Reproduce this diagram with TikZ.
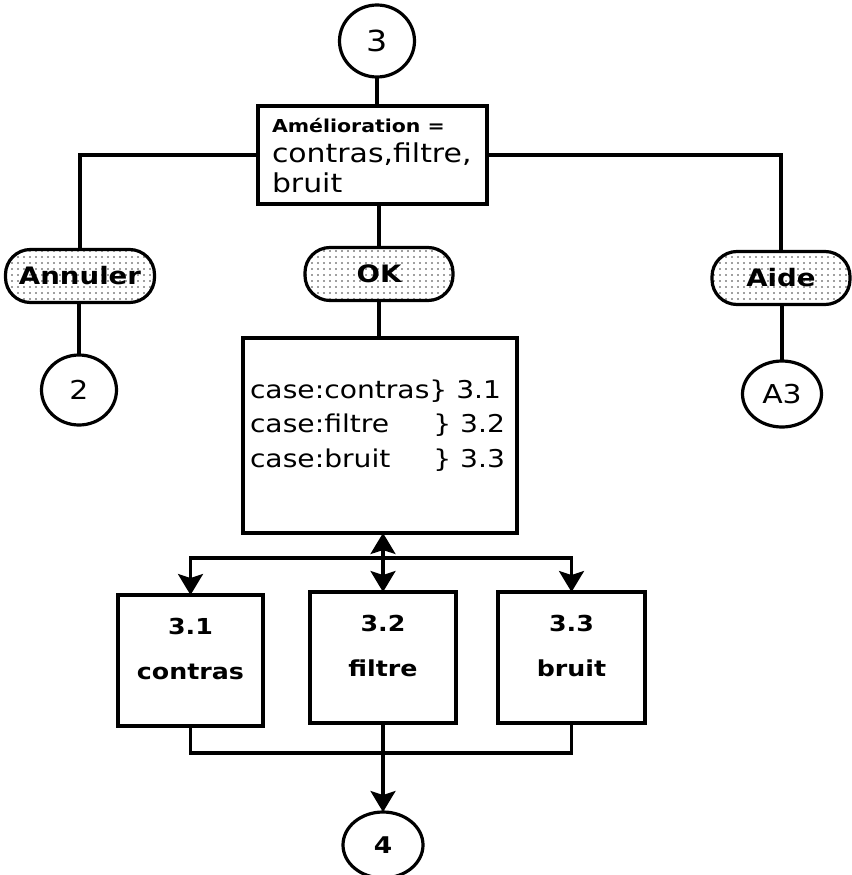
\documentclass[tikz,border=0pt]{standalone}
\usepackage{fontspec}
\setmainfont{DejaVu Sans}[FakeStretch=1.15]
\usetikzlibrary{shapes.geometric,arrows.meta,patterns.meta}

\newcommand\fsize[1]{\fontsize{#1}{#1}\selectfont}

\begin{document}
\begin{tikzpicture}[x=1pt,y=-1pt,
  every node/.style={inner sep=0pt,outer sep=0pt},
  line/.style={line width=3.2pt},
  tip/.tip={Stealth[length=21pt,width=25pt,inset=4pt]},
  arr/.style={line/.try,-tip},
  bothway/.style={line/.try,tip-tip},
  term/.style={ellipse,draw,line width=3.2pt,font=\fsize{26}},
  box/.style={rectangle,draw,line width=3.2pt},
  pill/.style={rectangle,draw,line width=3.2pt,rounded corners=25pt,
    minimum height=53pt,font=\bfseries\fsize{24},
    pattern={Dots[distance=6pt,radius=0.9pt]},pattern color=black!75},
  txt/.style={font=\fsize{24.5}},
  lbl/.style={font=\bfseries\fsize{22}}
]
\useasboundingbox[fill=white] (0,0) rectangle (851,875);

% entry terminal
\node[term,font=\fsize{29},minimum width=75pt,minimum height=72pt] (c3) at (377,41) {3};

% choice box
\node[box,minimum width=229pt,minimum height=98pt] (menu) at (372.5,155) {};
\node[anchor=base west,font=\bfseries\fsize{17.8}] (m1) at (272,132) {Amélioration =};
\node[anchor=base west,font=\fsize{26}] (m2) at (272,162) {contras,filtre,};
\node[anchor=base west,font=\fsize{26}] (m3) at (272,192) {bruit};

% buttons
\node[pill,minimum width=149pt] (annuler) at (80,276) {Annuler};
\node[pill,minimum width=148pt] (ok) at (379,274) {OK};
\node[pill,minimum width=138pt] (aide) at (781,278) {Aide};

% exit terminals
\node[term,minimum width=75pt,minimum height=70pt] (c2) at (79,390) {2};
\node[term,minimum width=79pt,minimum height=66pt] (cA3) at (782,394) {A3};

% case selection box
\node[box,minimum width=274pt,minimum height=195pt] (case) at (380,435.5) {};
\node[txt,anchor=base west] (k1) at (250,398) {case:contras\} 3.1};
\node[txt,anchor=base west] (k2) at (250,432) {case:filtre};
\node[txt,anchor=base east] (k2r) at (505,432) {\} 3.2};
\node[txt,anchor=base west] (k3) at (250,467) {case:bruit};
\node[txt,anchor=base east] (k3r) at (505,467) {\} 3.3};

% treatment boxes
\node[box,minimum width=145pt,minimum height=131pt] (b31) at (190.5,660.5) {};
\node[box,minimum width=146pt,minimum height=131pt] (b32) at (383,657.5) {};
\node[box,minimum width=147pt,minimum height=131pt] (b33) at (571.5,657.5) {};
\node[lbl,anchor=base] (t31a) at (190.5,634) {3.1};
\node[lbl,anchor=base] (t31b) at (190.5,679) {contras};
\node[lbl,anchor=base] (t32a) at (383,631) {3.2};
\node[lbl,anchor=base] (t32b) at (383,676) {filtre};
\node[lbl,anchor=base] (t33a) at (571.5,631) {3.3};
\node[lbl,anchor=base] (t33b) at (571.5,676) {bruit};

% final terminal
\node[term,font=\bfseries\fsize{23},minimum width=80pt,minimum height=66pt] (c4) at (383,845) {4};

% connectors
\draw[line] (c3) -- (c3 |- menu.north);
\draw[line] (menu.west) -| (annuler.north);
\draw[line] (menu.east) -| (aide.north);
\draw[line] (menu.south -| ok.north) -- (ok.north);
\draw[line] (annuler.south -| c2.north) -- (c2.north);
\draw[line] (aide.south -| cA3.north) -- (cA3.north);
\draw[line] (ok.south) -- (ok.south |- case.north);

\coordinate (split) at (383,558);
\draw[bothway] (case.south -| b32.north) -- (b32.north);
\draw[arr] (split) -| (b31.north);
\draw[arr] (split) -| (b33.north);

\coordinate (join) at (383,753);
\draw[line] (b31.south) |- (join) -| (b33.south);
\draw[arr] (b32.south) -- (c4.north);
\end{tikzpicture}
\end{document}
